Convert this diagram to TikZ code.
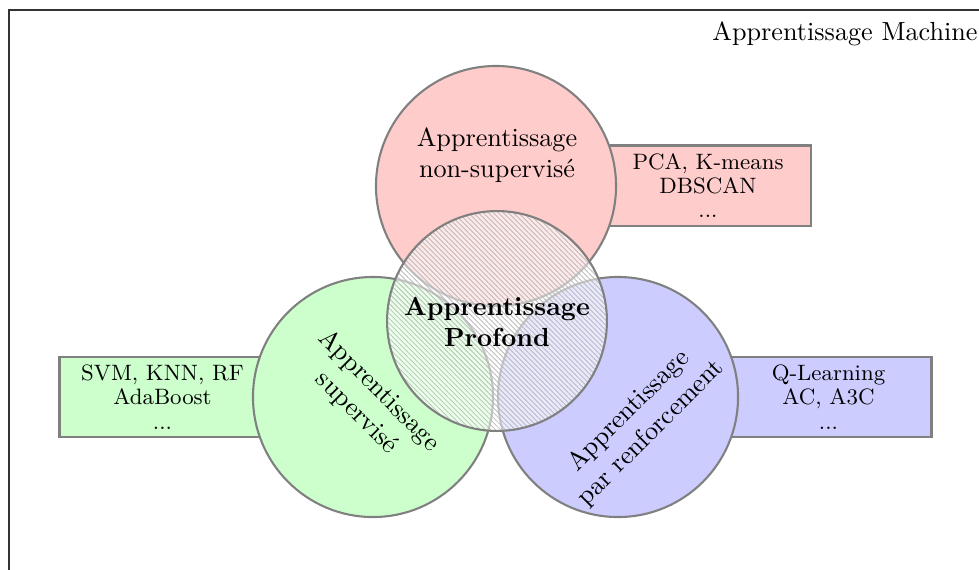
\documentclass[tikz,border=0pt]{standalone}
\usetikzlibrary{patterns.meta}
\begin{document}
\begin{tikzpicture}[x=0.382pt,y=-0.382pt,
  circ/.style={circle, draw=black!50, thick, minimum size=91.7pt, inner sep=0pt},
  algbox/.style={rectangle, draw=black!50, thick, minimum width=78.7pt, minimum height=30.6pt, inner sep=0pt, align=center, font=\fontsize{8.5}{9.3}\selectfont},
  lbl/.style={align=center, inner sep=0pt},
  hatch/.style={circle, draw=black!50, thick, minimum size=84pt, inner sep=0pt,
    preaction={fill=white, fill opacity=0.55},
    pattern={Lines[angle=-45,distance=1.35pt,line width=0.25pt]}, pattern color=black!30}]
\useasboundingbox (0,0) rectangle (979,569);
\draw[black!80] (9,10) rectangle (1100,700);
\node[anchor=base east, inner sep=0pt] (title) at (978,40) {Apprentissage Machine};
% boxes
\node[algbox, fill=red!20] (bU) at (708,185.5) {PCA, K-means\\DBSCAN\\...};
\node[algbox, fill=green!20] (bS) at (162.5,397) {SVM, KNN, RF\\AdaBoost\\...};
\node[algbox, fill=blue!20] (bR) at (828.5,397) {Q-Learning\\AC, A3C\\...};
% circles
\node[circ, fill=red!20] (cU) at (496,186) {};
\node[circ, fill=green!20] (cS) at (373,397) {};
\node[circ, fill=blue!20] (cR) at (618,397) {};
\node[hatch] (cD) at (497,321) {};
% labels
\node[lbl] (tU) at (497,155) {Apprentissage\\non-supervisé};
\node[lbl, rotate=-45] (tS) at (368,402) {Apprentissage\\supervisé};
\node[lbl, rotate=45] (tR) at (640,422) {Apprentissage\\par renforcement};
\node[lbl, font=\bfseries] (tD) at (497,322) {Apprentissage\\Profond};
\end{tikzpicture}
\end{document}
